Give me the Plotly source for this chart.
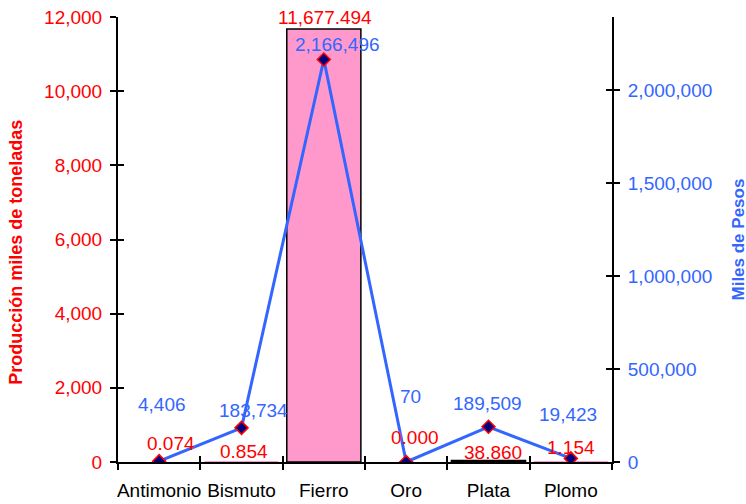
import plotly.graph_objects as go

categories = ["Antimonio", "Bismuto", "Fierro", "Oro", "Plata", "Plomo"]
produccion = [0.074, 0.854, 11677.494, 0.000, 38.860, 1.154]   # miles de toneladas (bars, left axis)
valor = [4406, 183734, 2166496, 70, 189509, 19423]             # miles de pesos (line, right axis)
left_ticks = [0, 2000, 4000, 6000, 8000, 10000, 12000]
right_ticks = [0, 500000, 1000000, 1500000, 2000000]

# label offsets (pixels) and outline widths – styling only
red_xshift = [12, 2, 1, 9, 4, 0]
red_yshift = [19, 10, 11, 25, 8, 14]
blue_xshift = [3, 12, 14, 4, -1, -3]
blue_yshift = [57, 17, 15, 65, 23, 44]
bar_outline = [0, 0, 1.5, 0, 1.5, 0]

RED = "#FF0000"
BLUE = "#3366FF"
FONT = "Liberation Sans, Arial, sans-serif"
FS = 19
Y_RANGE = [0, 12000]
Y2_RANGE = [0, 2395000]

fig = go.Figure()
fig.add_trace(go.Bar(
    x=categories, y=produccion, xaxis="x", yaxis="y",
    marker=dict(color="#FF99CC", line=dict(color="black", width=bar_outline)),
    hoverinfo="x+y", showlegend=False,
))
fig.add_trace(go.Scatter(
    x=categories, y=valor, xaxis="x", yaxis="y2", mode="lines+markers",
    line=dict(color=BLUE, width=3),
    marker=dict(symbol="diamond", size=10, color="#000080", line=dict(color=RED, width=1.5)),
    showlegend=False,
))
# helper invisible traces so that the inner-tick overlay axes get drawn
fig.add_trace(go.Scatter(x=categories, y=produccion, xaxis="x2", yaxis="y3", mode="markers",
                         marker=dict(opacity=0), hoverinfo="skip", showlegend=False))
fig.add_trace(go.Scatter(x=categories, y=valor, xaxis="x", yaxis="y4", mode="markers",
                         marker=dict(opacity=0), hoverinfo="skip", showlegend=False))

annotations = []
for i, c in enumerate(categories):
    annotations.append(dict(
        x=c, y=produccion[i], xref="x", yref="y", text=f"{produccion[i]:,.3f}",
        showarrow=False, xanchor="center", yanchor="middle",
        xshift=red_xshift[i], yshift=red_yshift[i], font=dict(color=RED, size=FS, family=FONT)))
    annotations.append(dict(
        x=c, y=valor[i], xref="x", yref="y2", text=f"{valor[i]:,d}",
        showarrow=False, xanchor="center", yanchor="middle",
        xshift=blue_xshift[i], yshift=blue_yshift[i], font=dict(color=BLUE, size=FS, family=FONT)))

annotations.append(dict(
    x=0, y=0.47, xref="paper", yref="paper", text="<b>Producción miles de toneladas</b>",
    textangle=-90, showarrow=False, xanchor="center", yanchor="middle", xshift=-102,
    font=dict(color=RED, size=18, family=FONT)))
annotations.append(dict(
    x=1, y=0.5, xref="paper", yref="paper", text="<b>Miles de Pesos</b>",
    textangle=-90, showarrow=False, xanchor="center", yanchor="middle", xshift=126,
    font=dict(color=BLUE, size=17, family=FONT)))

tick_common = dict(ticklen=6, tickwidth=1.5, tickcolor="black", showgrid=False,
                   zeroline=False, automargin=False)

fig.update_layout(
    width=746, height=504,
    margin=dict(l=118, r=134, t=17, b=42),
    paper_bgcolor="white", plot_bgcolor="white",
    font=dict(family=FONT, size=FS, color="black"),
    bargap=0.1,
    xaxis=dict(type="category", categoryorder="array", categoryarray=categories,
               range=[-0.5, 5.5], tickson="boundaries", ticks="outside", tickangle=0,
               showline=True, linecolor="black", linewidth=2,
               tickfont=dict(color="black", size=FS, family=FONT), ticklabelstandoff=10,
               anchor="y", **tick_common),
    xaxis2=dict(type="category", categoryorder="array", categoryarray=categories,
                range=[-0.5, 5.5], tickson="boundaries", ticks="inside",
                overlaying="x", anchor="y", side="bottom",
                showticklabels=False, showline=False, **tick_common),
    yaxis=dict(range=Y_RANGE, tickvals=left_ticks, tickformat=",d", ticks="outside",
               showline=True, linecolor="black", linewidth=2, ticklabelstandoff=4,
               tickfont=dict(color=RED, size=FS, family=FONT), anchor="x", **tick_common),
    yaxis2=dict(range=Y2_RANGE, tickvals=right_ticks, tickformat=",d", ticks="outside",
                overlaying="y", side="right", anchor="x", ticklabelstandoff=4,
                showline=True, linecolor="black", linewidth=2,
                tickfont=dict(color=BLUE, size=FS, family=FONT), **tick_common),
    yaxis3=dict(range=Y_RANGE, tickvals=left_ticks, ticks="inside", overlaying="y",
                side="left", anchor="x2", showticklabels=False, showline=False, **tick_common),
    yaxis4=dict(range=Y2_RANGE, tickvals=right_ticks, ticks="inside", overlaying="y",
                side="right", anchor="x", showticklabels=False, showline=False, **tick_common),
    annotations=annotations,
)

# remove the default 8px page margin so the figure fills the window exactly
fig.write_html("out.html", config={"displayModeBar": False},
               post_script="document.body.style.margin='0';")
